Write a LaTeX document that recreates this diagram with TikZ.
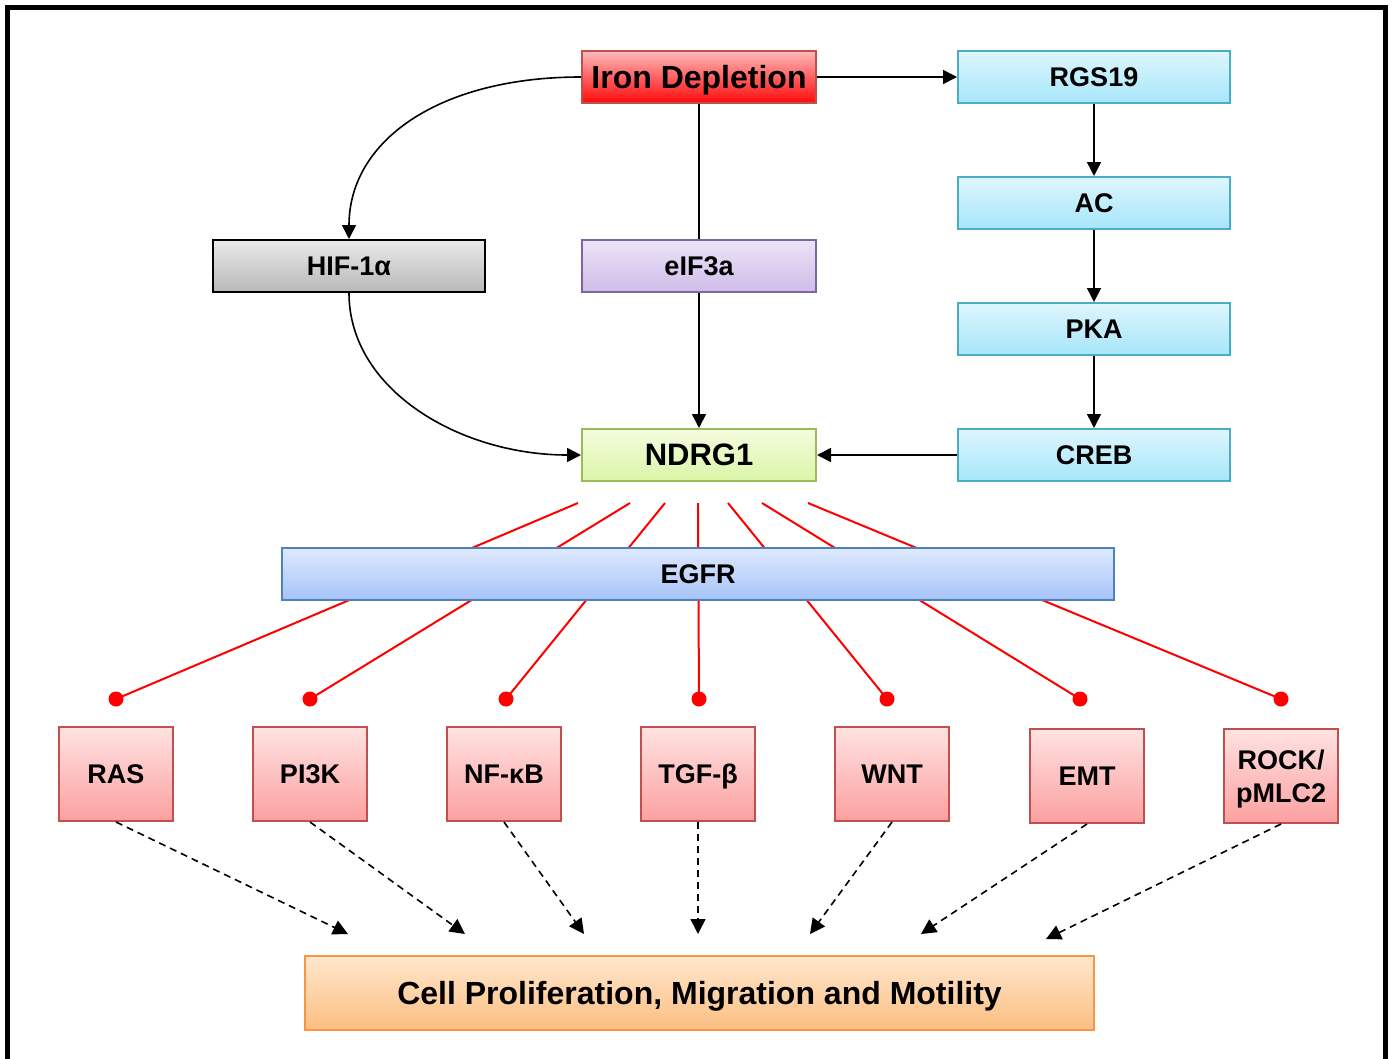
\documentclass[tikz,border=0pt]{standalone}
\usepackage{fontspec}
\setmainfont{Liberation Sans}
\usetikzlibrary{arrows.meta}
\definecolor{redtop}{RGB}{255,185,185}
\definecolor{redbot}{RGB}{255,10,10}
\definecolor{redbrd}{RGB}{192,80,77}
\definecolor{cyantop}{RGB}{222,246,253}
\definecolor{cyanbot}{RGB}{166,230,250}
\definecolor{cyanbrd}{RGB}{75,172,198}
\definecolor{greytop}{RGB}{234,234,234}
\definecolor{greybot}{RGB}{184,184,184}
\definecolor{purptop}{RGB}{236,228,246}
\definecolor{purpbot}{RGB}{206,188,232}
\definecolor{purpbrd}{RGB}{128,100,162}
\definecolor{grntop}{RGB}{244,252,222}
\definecolor{grnbot}{RGB}{218,245,168}
\definecolor{grnbrd}{RGB}{155,187,89}
\definecolor{bluetop}{RGB}{222,233,253}
\definecolor{bluebot}{RGB}{166,196,248}
\definecolor{bluebrd}{RGB}{79,129,189}
\definecolor{pinktop}{RGB}{255,226,226}
\definecolor{pinkbot}{RGB}{252,160,160}
\definecolor{orgtop}{RGB}{255,231,205}
\definecolor{orgbot}{RGB}{252,190,130}
\definecolor{orgbrd}{RGB}{247,150,70}
\begin{document}
\begin{tikzpicture}[x=1pt,y=-1pt,
  box/.style={draw, line width=2pt, inner sep=0pt, align=center,
    text depth=0pt,
    font=\fontsize{27}{33}\selectfont\bfseries},
  bigtxt/.style={font=\fontsize{32}{38}\selectfont\bfseries},
  midtxt/.style={font=\fontsize{31}{36}\selectfont\bfseries},
  wide/.style={minimum width=234pt, minimum height=52pt},
  cyanbox/.style={box, minimum width=272pt, minimum height=52pt,
    draw=cyanbrd, top color=cyantop, bottom color=cyanbot},
  pinkbox/.style={box, minimum width=114pt, minimum height=94pt,
    draw=redbrd, top color=pinktop, bottom color=pinkbot},
  arr/.style={line width=1.6pt, -{Triangle[length=14pt,width=14pt]}},
  plain/.style={line width=1.6pt},
  inhib/.style={draw=red, line width=2pt},
  dot/.style={circle, fill=red, inner sep=0pt, minimum size=15pt},
  dasharr/.style={line width=1.6pt, dash pattern=on 7pt off 5pt,
    -{Triangle[length=15pt,width=15pt]}}
]
\useasboundingbox (0,0) rectangle (1394,1058);
\fill[white] (0,0) rectangle (1394,1058);
\draw[line width=5pt] (7.5,7.5) rectangle (1385.5,1090);

% top part
\node[box, wide, bigtxt, draw=redbrd, top color=redtop, bottom color=redbot] (iron) at (699,77) {Iron Depletion};
\node[cyanbox] (rgs) at (1094,77) {RGS19};
\node[cyanbox] (ac) at (1094,203) {AC};
\node[cyanbox] (pka) at (1094,329) {PKA};
\node[cyanbox] (creb) at (1094,455) {CREB};
\node[box, minimum width=272pt, minimum height=52pt, draw=black, top color=greytop, bottom color=greybot] (hif) at (349,266) {HIF-1α};
\node[box, wide, draw=purpbrd, top color=purptop, bottom color=purpbot] (eif) at (699,266) {eIF3a};
\node[box, wide, midtxt, draw=grnbrd, top color=grntop, bottom color=grnbot] (ndrg) at (699,455) {NDRG1};

\draw[arr] (iron.east) -- (rgs.west);
\draw[arr] (rgs) -- (ac);
\draw[arr] (ac) -- (pka);
\draw[arr] (pka) -- (creb);
\draw[arr] (creb.west) -- (ndrg.east);
\draw[plain] (iron.south) -- (eif.north);
\draw[arr] (eif.south) -- (ndrg.north);
\draw[arr] (iron.west) .. controls (440,77) and (349,140) .. (hif.north);
\draw[arr] (hif.south) .. controls (349,390) and (460,455) .. (ndrg.west);

% inhibition lines through EGFR
\coordinate (s1) at (578,503);
\coordinate (s2) at (630,503);
\coordinate (s3) at (665,503);
\coordinate (s4) at (698,503);
\coordinate (s5) at (728,503);
\coordinate (s6) at (762,503);
\coordinate (s7) at (808,503);
\node[dot] (d1) at (116,699) {};
\node[dot] (d2) at (310,699) {};
\node[dot] (d3) at (506,699) {};
\node[dot] (d4) at (699,699) {};
\node[dot] (d5) at (887,699) {};
\node[dot] (d6) at (1080,699) {};
\node[dot] (d7) at (1281,699) {};
\foreach \i in {1,...,7} {\draw[inhib] (s\i) -- (d\i.center);}

\node[box, minimum width=832pt, minimum height=52pt, draw=bluebrd, top color=bluetop, bottom color=bluebot] (egfr) at (698,574) {EGFR};

% effectors
\node[pinkbox] (ras) at (116,774) {RAS};
\node[pinkbox] (pik) at (310,774) {PI3K};
\node[pinkbox] (nfkb) at (504,774) {NF-κB};
\node[pinkbox] (tgf) at (698,774) {TGF-β};
\node[pinkbox] (wnt) at (892,774) {WNT};
\node[pinkbox] (emt) at (1087,776) {EMT};
\node[pinkbox] (rock) at (1281,776) {ROCK/\\pMLC2};

\node[box, minimum width=789pt, minimum height=74pt, bigtxt, draw=orgbrd, top color=orgtop, bottom color=orgbot] (cell) at (699.5,993) {Cell Proliferation, Migration and Motility};

\coordinate (t1) at (348,934);
\coordinate (t2) at (465,934);
\coordinate (t3) at (584,934);
\coordinate (t4) at (698,934);
\coordinate (t5) at (810,934);
\coordinate (t6) at (921,934);
\coordinate (t7) at (1046,939);
\draw[dasharr] (ras.south) -- (t1);
\draw[dasharr] (pik.south) -- (t2);
\draw[dasharr] (nfkb.south) -- (t3);
\draw[dasharr] (tgf.south) -- (t4);
\draw[dasharr] (wnt.south) -- (t5);
\draw[dasharr] (emt.south) -- (t6);
\draw[dasharr] (rock.south) -- (t7);
\end{tikzpicture}
\end{document}
